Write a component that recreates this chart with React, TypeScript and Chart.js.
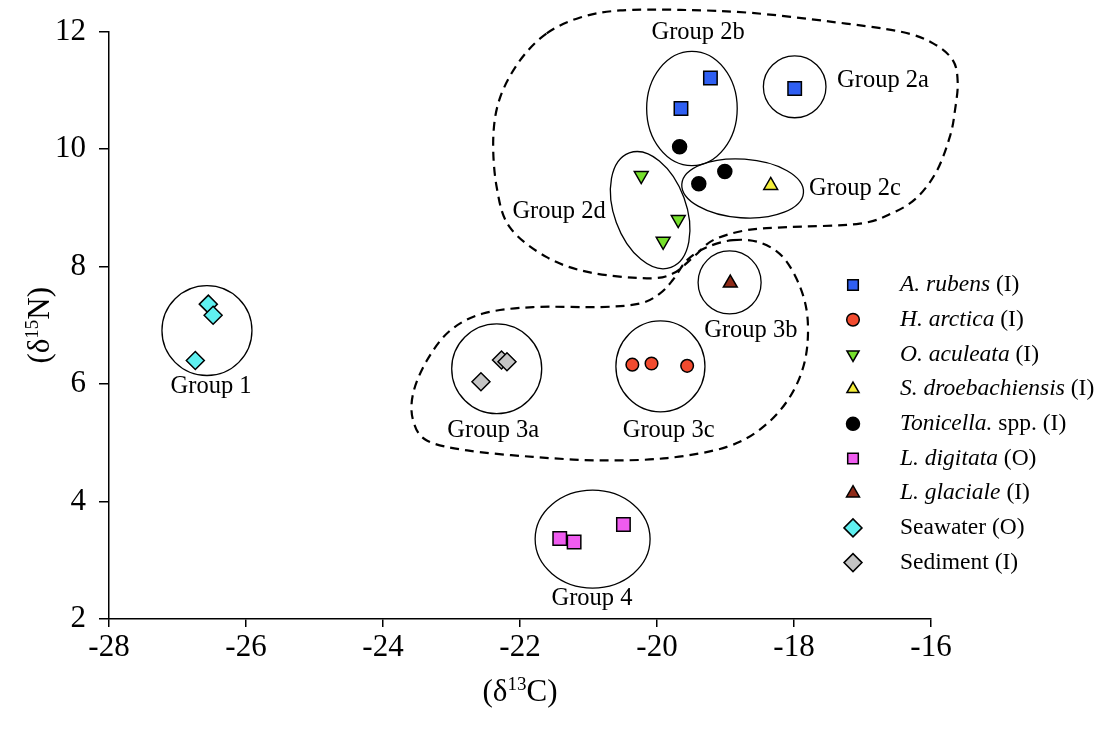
import React, { useEffect, useRef } from "react";
import { Chart, registerables } from "chart.js";
import { drawPoint } from "chart.js/helpers";

Chart.register(...registerables);

// ---------- axes ----------
const X_MIN = -28;
const X_MAX = -16;
const X_STEP = 2;
const Y_MIN = 2;
const Y_MAX = 12;
const Y_STEP = 2;
const X_TITLE = ["(δ", "13", "C)"];
const Y_TITLE = ["(δ", "15", "N)"];

// ---------- series data (δ13C, δ15N) ----------
const aRubensX = [-19.22, -19.65, -17.99];
const aRubensY = [11.21, 10.69, 11.03];
const hArcticaX = [-20.36, -20.08, -19.56];
const hArcticaY = [6.33, 6.35, 6.31];
const oAculeataX = [-20.23, -19.69, -19.91];
const oAculeataY = [9.55, 8.8, 8.43];
const sDroebX = [-18.34];
const sDroebY = [9.38];
const tonicellaX = [-19.67, -19.39, -19.01];
const tonicellaY = [10.04, 9.41, 9.62];
const lDigitataX = [-21.42, -21.21, -20.49];
const lDigitataY = [3.37, 3.31, 3.61];
const lGlacialeX = [-18.93];
const lGlacialeY = [7.72];
const seawaterX = [-26.55, -26.48, -26.74];
const seawaterY = [7.36, 7.17, 6.4];
const sedimentX = [-22.57, -22.27, -22.19];
const sedimentY = [6.04, 6.41, 6.38];

// legend names: italic part, regular part
const seriesItalic = ["A. rubens", "H. arctica", "O. aculeata", "S. droebachiensis", "Tonicella.", "L. digitata", "L. glaciale", "", ""];
const seriesRegular = [" (I)", " (I)", " (I)", " (I)", " spp. (I)", " (O)", " (I)", "Seawater (O)", "Sediment (I)"];

// ---------- group annotations ----------
const groupNames = ["Group 1", "Group 2a", "Group 2b", "Group 2c", "Group 2d", "Group 3a", "Group 3b", "Group 3c", "Group 4"];
const groupLabelX = [-26.51, -16.7, -19.4, -17.11, -21.43, -22.39, -18.63, -19.83, -20.95];
const groupLabelY = [5.95, 11.17, 11.99, 9.32, 8.93, 5.21, 6.91, 5.21, 2.35];
// ellipse centre and radii in data units, rotation in degrees
const ellipseCX = [-26.57, -17.99, -19.49, -18.75, -20.1, -22.34, -18.94, -19.95, -20.94];
const ellipseCY = [6.91, 11.06, 10.69, 9.33, 8.96, 6.26, 7.73, 6.3, 3.36];
const ellipseRX = [0.657, 0.457, 0.661, 0.89, 0.526, 0.657, 0.46, 0.65, 0.839];
const ellipseRY = [0.765, 0.527, 0.973, 0.5, 1.037, 0.765, 0.536, 0.774, 0.833];
const ellipseRot = [0, 0, 0, 4, -20, 0, 0, 0, 0];

// dashed outlines (closed curves), data units
const outline2X = [-21.61, -21.12, -20.54, -19.66, -18.64, -17.47, -16.45, -15.97, -15.68, -15.61, -15.65, -15.72, -15.91, -16.2, -16.55, -17.04, -18.1, -18.69, -19.18, -19.47, -19.77, -20.15, -20.98, -21.61, -22.15, -22.34, -22.39, -22.29, -22.0];
const outline2Y = [11.97, 12.24, 12.36, 12.37, 12.32, 12.17, 12.0, 11.8, 11.51, 11.13, 10.66, 10.23, 9.64, 9.18, 8.92, 8.73, 8.67, 8.62, 8.45, 8.16, 7.88, 7.8, 7.9, 8.16, 8.67, 9.35, 10.2, 10.88, 11.51];
const outline3X = [-18.89, -18.5, -18.16, -17.91, -17.8, -17.84, -18.06, -18.45, -18.98, -19.85, -20.83, -21.81, -22.77, -23.36, -23.56, -23.56, -23.36, -23.02, -22.54, -21.81, -20.83, -20.25, -19.96, -19.77, -19.56, -19.27];
const outline3Y = [8.45, 8.41, 8.16, 7.65, 7.09, 6.4, 5.78, 5.27, 4.93, 4.74, 4.7, 4.76, 4.87, 5.04, 5.38, 5.84, 6.4, 6.91, 7.2, 7.31, 7.31, 7.37, 7.54, 7.77, 8.11, 8.33];

const FONT = '"Liberation Serif", "Times New Roman", serif';

const zip = (xs: number[], ys: number[]) => xs.map((x, i) => ({ x, y: ys[i] }));

type Style = { style: string; radius: number; legendRadius: number; rot: number; color: string };
const styles: Style[] = [
  { style: "rect", radius: 9.5, legendRadius: 7.5, rot: 0, color: "#2f5ff2" },
  { style: "circle", radius: 6.3, legendRadius: 6.3, rot: 0, color: "#f24b2f" },
  { style: "triangle", radius: 8, legendRadius: 7, rot: 180, color: "#76e02c" },
  { style: "triangle", radius: 8, legendRadius: 7, rot: 0, color: "#f4ee3a" },
  { style: "circle", radius: 7, legendRadius: 6.5, rot: 0, color: "#000000" },
  { style: "rect", radius: 9.5, legendRadius: 7.5, rot: 0, color: "#ef5cef" },
  { style: "triangle", radius: 8, legendRadius: 7.5, rot: 0, color: "#8e2a18" },
  { style: "rectRot", radius: 9, legendRadius: 9, rot: 0, color: "#5ff0f0" },
  { style: "rectRot", radius: 9, legendRadius: 9, rot: 0, color: "#c4c4c4" },
];

const seriesData = [
  zip(aRubensX, aRubensY),
  zip(hArcticaX, hArcticaY),
  zip(oAculeataX, oAculeataY),
  zip(sDroebX, sDroebY),
  zip(tonicellaX, tonicellaY),
  zip(lDigitataX, lDigitataY),
  zip(lGlacialeX, lGlacialeY),
  zip(seawaterX, seawaterY),
  zip(sedimentX, sedimentY),
];

function closedSpline(ctx: CanvasRenderingContext2D, pts: { x: number; y: number }[]) {
  const n = pts.length;
  ctx.moveTo(pts[0].x, pts[0].y);
  for (let i = 0; i < n; i++) {
    const p0 = pts[(i - 1 + n) % n];
    const p1 = pts[i];
    const p2 = pts[(i + 1) % n];
    const p3 = pts[(i + 2) % n];
    const t = 1 / 6;
    ctx.bezierCurveTo(
      p1.x + (p2.x - p0.x) * t,
      p1.y + (p2.y - p0.y) * t,
      p2.x - (p3.x - p1.x) * t,
      p2.y - (p3.y - p1.y) * t,
      p2.x,
      p2.y
    );
  }
  ctx.closePath();
}

function drawSupText(ctx: CanvasRenderingContext2D, parts: string[], cx: number, baseline: number, size: number) {
  const big = `${size}px ${FONT}`;
  const small = `${Math.round(size * 0.62)}px ${FONT}`;
  ctx.font = big;
  const w0 = ctx.measureText(parts[0]).width;
  const w2 = ctx.measureText(parts[2]).width;
  ctx.font = small;
  const w1 = ctx.measureText(parts[1]).width;
  const total = w0 + w1 + w2;
  let x = cx - total / 2;
  ctx.textAlign = "left";
  ctx.textBaseline = "alphabetic";
  ctx.font = big;
  ctx.fillText(parts[0], x, baseline);
  x += w0;
  ctx.font = small;
  ctx.fillText(parts[1], x, baseline - size * 0.36);
  x += w1;
  ctx.font = big;
  ctx.fillText(parts[2], x, baseline);
}

const annotationPlugin = {
  id: "annotations",
  beforeDatasetsDraw(chart: any) {
    const ctx: CanvasRenderingContext2D = chart.ctx;
    const xs = chart.scales.x;
    const ys = chart.scales.y;
    const pxPerX = Math.abs(xs.getPixelForValue(1) - xs.getPixelForValue(0));
    const pxPerY = Math.abs(ys.getPixelForValue(1) - ys.getPixelForValue(0));
    ctx.save();
    ctx.strokeStyle = "#000";
    // ellipses
    ctx.lineWidth = 1.3;
    for (let i = 0; i < ellipseCX.length; i++) {
      ctx.beginPath();
      ctx.ellipse(
        xs.getPixelForValue(ellipseCX[i]),
        ys.getPixelForValue(ellipseCY[i]),
        ellipseRX[i] * pxPerX,
        ellipseRY[i] * pxPerY,
        (ellipseRot[i] * Math.PI) / 180,
        0,
        Math.PI * 2
      );
      ctx.stroke();
    }
    // dashed outlines
    ctx.lineWidth = 2.2;
    ctx.setLineDash([9, 6]);
    for (const [ox, oy] of [
      [outline2X, outline2Y],
      [outline3X, outline3Y],
    ]) {
      const pts = ox.map((v, i) => ({ x: xs.getPixelForValue(v), y: ys.getPixelForValue(oy[i]) }));
      ctx.beginPath();
      closedSpline(ctx, pts);
      ctx.stroke();
    }
    ctx.restore();
  },
  afterDraw(chart: any) {
    const ctx: CanvasRenderingContext2D = chart.ctx;
    const xs = chart.scales.x;
    const ys = chart.scales.y;
    const area = chart.chartArea;
    ctx.save();
    ctx.fillStyle = "#000";
    // group labels
    ctx.font = `24.5px ${FONT}`;
    ctx.textAlign = "center";
    ctx.textBaseline = "middle";
    groupNames.forEach((g, i) => {
      ctx.fillText(g, xs.getPixelForValue(groupLabelX[i]), ys.getPixelForValue(groupLabelY[i]));
    });
    // legend
    const lx = 853;
    const tx = 900;
    const ly0 = 285;
    const dy = 34.7;
    styles.forEach((s, i) => {
      const y = ly0 + i * dy;
      ctx.fillStyle = s.color;
      ctx.strokeStyle = "#000";
      ctx.lineWidth = 1.5;
      drawPoint(ctx, { pointStyle: s.style as any, rotation: s.rot, radius: s.legendRadius, borderWidth: 1.5 }, lx, y);
      ctx.fillStyle = "#000";
      ctx.textAlign = "left";
      ctx.textBaseline = "middle";
      let x = tx;
      if (seriesItalic[i]) {
        ctx.font = `italic 23.5px ${FONT}`;
        ctx.fillText(seriesItalic[i], x, y);
        x += ctx.measureText(seriesItalic[i]).width;
      }
      ctx.font = `23.5px ${FONT}`;
      ctx.fillText(seriesRegular[i], x, y);
    });
    // axis titles
    ctx.fillStyle = "#000";
    drawSupText(ctx, X_TITLE, (area.left + area.right) / 2, 701, 31);
    ctx.translate(38, (area.top + area.bottom) / 2);
    ctx.rotate(-Math.PI / 2);
    drawSupText(ctx, Y_TITLE, 0, 11, 31);
    ctx.restore();
  },
};

export default function App() {
  const canvasRef = useRef<HTMLCanvasElement | null>(null);

  useEffect(() => {
    if (!canvasRef.current) return;
    const chart = new Chart(canvasRef.current, {
      type: "scatter",
      data: {
        datasets: seriesData.map((d, i) => ({
          label: (seriesItalic[i] + seriesRegular[i]).trim(),
          data: d,
          pointStyle: styles[i].style as any,
          pointRadius: styles[i].radius,
          pointHoverRadius: styles[i].radius,
          pointRotation: styles[i].rot,
          pointBackgroundColor: styles[i].color,
          pointBorderColor: "#000",
          pointBorderWidth: 1.5,
          backgroundColor: styles[i].color,
          borderColor: "#000",
          showLine: false,
        })),
      },
      options: {
        animation: false,
        responsive: false,
        devicePixelRatio: 1,
        events: [],
        layout: { padding: { left: 0, right: 173, top: 31, bottom: 0 } },
        plugins: {
          legend: { display: false },
          tooltip: { enabled: false },
          title: { display: false },
        },
        scales: {
          x: {
            type: "linear",
            min: X_MIN,
            max: X_MAX,
            ticks: { stepSize: X_STEP, color: "#000", font: { family: FONT, size: 31 }, padding: 2, maxRotation: 0 },
            grid: { drawOnChartArea: false, drawTicks: true, tickLength: 8, color: "#000", lineWidth: 1.5 },
            border: { display: true, color: "#000", width: 1.5 },
            afterFit: (s: any) => {
              s.height = 111;
            },
          },
          y: {
            type: "linear",
            min: Y_MIN,
            max: Y_MAX,
            ticks: { stepSize: Y_STEP, color: "#000", font: { family: FONT, size: 31 }, padding: 13 },
            grid: { drawOnChartArea: false, drawTicks: true, tickLength: 10, color: "#000", lineWidth: 1.5 },
            border: { display: true, color: "#000", width: 1.5 },
            afterFit: (s: any) => {
              s.width = 109;
            },
          },
        },
      },
      plugins: [annotationPlugin],
    });
    return () => chart.destroy();
  }, []);

  return (
    <div style={{ position: "fixed", left: 0, top: 0, width: 1104, height: 730, background: "#fff" }}>
      <canvas ref={canvasRef} width={1104} height={730} style={{ display: "block" }} />
    </div>
  );
}
